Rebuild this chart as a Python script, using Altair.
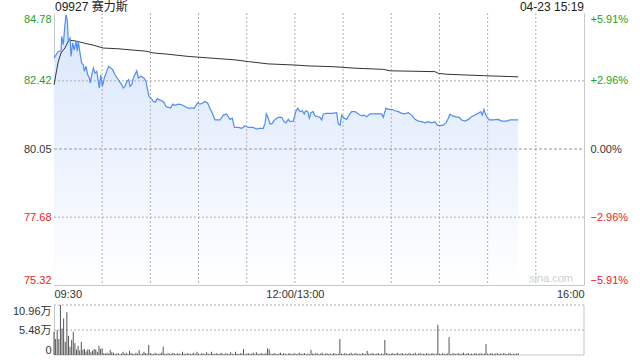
import altair as alt
import pandas as pd

header_left = ["09927 赛力斯"]
header_right = ["04-23 15:19"]
watermark = ["sina.com"]

prev_close = 80.05
price_ticks = [75.32, 77.68, 80.05, 82.42, 84.78]
pct_ticks = [-5.91, -2.96, 0.0, 2.96, 5.91]
vol_ticks = [0, 5.48, 10.96]
x_ticks = [0, 150, 330]
x_tick_labels = ["09:30", "12:00/13:00", "16:00"]
grid_minutes = [30, 60, 90, 120, 150, 180, 210, 240, 270, 300]
dotted_price_grid = [77.68, 82.42]
base_price_grid = [80.05]
vol_grid = [5.48, 10.96]

price_min = [
    0, 2.7, 4.4, 4.8, 5.8, 6.8, 7.5, 8.3, 8.9, 10.0,
    10.6, 11.6, 12.6, 13.7, 14.5, 15.1, 16.2, 17.2, 18.2, 18.9,
    19.9, 21.0, 22.0, 22.6, 23.5, 24.5, 25.5, 26.6, 27.6, 28.2,
    29.1, 30.1, 30.7, 31.3, 32.8, 34.1, 35.3, 36.5, 38.0, 40.0,
    42.1, 43.1, 44.2, 45.3, 46.5, 47.3, 48.4, 49.4, 50.4, 51.5,
    52.5, 54.0, 56.0, 57.3, 58.1, 59.1, 60.4, 61.8, 63.1, 64.3,
    65.6, 67.1, 68.5, 69.7, 71.2, 72.7, 73.9, 75.3, 77.4, 79.5,
    81.6, 83.6, 87.3, 89.5, 90.9, 92.3, 94.0, 95.7, 97.1, 98.6,
    100.2, 103.4, 105.4, 107.5, 108.5, 109.6, 111.0, 112.3, 114.7, 116.9,
    118.9, 121.0, 124.1, 126.2, 127.6, 130.3, 131.4, 132.2, 133.4, 134.5,
    135.9, 137.6, 139.6, 141.8, 143.2, 144.4, 145.9, 146.9, 149.0, 150.5,
    151.7, 153.2, 154.6, 155.8, 156.7, 158.0, 159.0, 160.0, 161.4, 162.5,
    164.2, 165.6, 166.7, 167.7, 169.8, 172.9, 176.0, 177.0, 178.1, 179.1,
    180.7, 182.2, 183.7, 185.3, 187.4, 189.5, 191.6, 193.0, 194.7, 196.7,
    199.9, 204.0, 205.0, 206.7, 208.1, 210.3, 212.3, 214.4, 216.5, 218.5,
    220.6, 222.7, 224.8, 226.8, 228.9, 231.0, 233.0, 235.2, 237.2, 238.6,
    240.3, 242.4, 244.1, 245.5, 246.5, 248.2, 250.3, 252.3, 253.8, 255.9,
    258.0, 260.0, 262.1, 264.2, 265.7, 266.7, 267.7, 268.8, 269.8, 271.0,
    273.5, 276.6, 278.7, 281.9, 283.9, 287.0, 289.0,
]
price_val = [
    83.21, 83.45, 83.45, 83.97, 83.68, 84.37, 84.72, 84.49, 83.80, 83.91,
    83.27, 83.74, 83.50, 83.80, 83.45, 83.80, 83.39, 83.04, 82.98, 82.75,
    82.93, 82.63, 82.52, 82.35, 82.63, 82.87, 82.69, 82.75, 82.40, 82.17,
    82.63, 82.23, 82.35, 82.52, 82.75, 82.93, 82.87, 82.81, 82.63, 82.46,
    82.29, 82.17, 82.23, 82.40, 82.46, 82.23, 82.29, 82.52, 82.63, 82.77,
    82.52, 82.58, 82.52, 82.40, 82.17, 81.88, 81.82, 81.71, 81.68, 81.80,
    81.76, 81.73, 81.67, 81.53, 81.50, 81.48, 81.61, 81.57, 81.61, 81.59,
    81.53, 81.47, 81.47, 81.66, 81.61, 81.64, 81.70, 81.64, 81.47, 81.29,
    81.06, 81.06, 81.23, 81.27, 81.17, 81.08, 81.12, 80.80, 80.80, 80.77,
    80.85, 80.80, 80.80, 80.74, 80.77, 80.77, 80.94, 81.27, 81.12, 80.92,
    80.94, 81.08, 81.15, 81.15, 81.00, 80.96, 81.08, 81.00, 81.02, 81.35,
    81.47, 81.35, 81.38, 81.27, 81.38, 81.35, 81.12, 81.31, 81.35, 81.20,
    81.17, 81.15, 81.06, 81.27, 81.29, 81.29, 81.31, 80.92, 80.88, 81.23,
    81.12, 81.08, 81.23, 81.35, 81.35, 81.27, 81.20, 81.23, 81.17, 81.27,
    81.27, 81.27, 81.15, 81.47, 81.43, 81.43, 81.38, 81.35, 81.29, 81.27,
    81.31, 81.23, 81.08, 81.02, 81.00, 80.96, 81.00, 80.96, 81.00, 80.88,
    80.86, 80.88, 80.96, 81.12, 81.26, 81.20, 81.17, 81.15, 81.06, 81.02,
    81.08, 81.17, 81.23, 81.29, 81.35, 81.23, 81.43, 81.23, 81.15, 81.06,
    81.06, 81.08, 81.02, 81.02, 81.06, 81.06, 81.06,
]

avg_min = [0, 1.7, 2.7, 4.4, 6.8, 8.9, 10.0, 14.1, 18.2, 24.5, 30.7, 39.0, 47.3,
           57.7, 61.8, 70.2, 83.6, 112.7, 121.0, 133.4, 150.0, 158.3, 175.0,
           187.4, 205.0, 209.2, 237.2, 239.3, 244.5, 267.3, 289.0]
avg_val = [82.28, 82.81, 83.10, 83.39, 83.56, 83.80, 83.83, 83.80, 83.74, 83.66,
           83.56, 83.54, 83.50, 83.45, 83.39, 83.35, 83.27, 83.15, 83.09, 83.01,
           82.97, 82.94, 82.91, 82.86, 82.82, 82.77, 82.74, 82.68, 82.65, 82.60,
           82.56]

# volume per minute, in 万 shares
vol_wan = [
    5.1, 3.5, 5.5, 3.5, 10.96, 5.8, 8.0, 2.9, 9.4, 4.2,
    1.8, 3.3, 5.1, 2.6, 1.2, 2.0, 1.0, 2.9, 1.2, 1.3,
    0.8, 1.2, 1.2, 0.6, 0.95, 1.3, 1.2, 0.7, 2.0, 1.3,
    1.5, 0.4, 0.3, 0.5, 0.3, 1.1, 0.6, 0.5, 0.2, 0.3,
    0.4, 0.2, 0.3, 0.7, 0.3, 0.5, 0.2, 0.9, 0.4, 0.3,
    0.2, 0.5, 0.3, 1.1, 0.2, 0.3, 0.7, 0.4, 0.3, 2.2,
    0.4, 0.3, 0.2, 0.5, 0.3, 0.2, 0.3, 0.5, 1.8, 0.3,
    0.2, 0.4, 0.3, 0.2, 0.5, 0.3, 0.2, 0.4, 0.3, 0.2,
    0.7, 0.3, 0.2, 0.4, 0.3, 0.2, 0.3, 0.5, 0.2, 0.7,
    0.3, 0.2, 0.4, 0.3, 0.2, 0.6, 0.3, 0.2, 0.7, 0.3,
    0.2, 0.4, 0.3, 0.2, 0.5, 0.3, 0.2, 0.4, 0.3, 0.2,
    0.6, 0.3, 0.2, 0.7, 0.3, 0.2, 0.4, 0.3, 1.3, 0.2,
    0.3, 0.4, 0.2, 0.3, 0.5, 0.2, 0.6, 0.3, 0.2, 0.4,
    0.3, 0.2, 0.4, 1.5, 1.2, 0.3, 0.2, 0.4, 0.3, 0.2,
    0.3, 0.5, 0.2, 0.4, 0.3, 0.2, 0.3, 0.4, 0.2, 0.3,
    0.4, 0.2, 0.3, 0.5, 0.2, 0.3, 0.4, 0.2, 0.3, 0.2,
    1.1, 0.3, 0.2, 0.4, 0.3, 0.2, 0.3, 0.5, 0.2, 0.3,
    0.4, 0.2, 0.3, 0.2, 0.4, 0.3, 0.2, 0.3, 3.5, 0.3,
    0.2, 0.4, 0.3, 0.2, 0.3, 0.5, 0.2, 0.3, 0.4, 0.2,
    0.3, 0.2, 0.4, 0.3, 0.2, 0.9, 0.3, 0.2, 0.4, 0.3,
    0.2, 0.3, 0.4, 0.2, 0.3, 0.2, 3.3, 0.4, 0.3, 0.2,
    0.3, 0.4, 0.2, 0.3, 0.5, 0.2, 0.3, 0.4, 0.2, 0.3,
    0.2, 0.4, 0.3, 0.2, 0.3, 0.5, 0.2, 0.3, 0.4, 0.2,
    0.3, 0.2, 0.4, 0.3, 0.2, 0.3, 0.4, 0.2, 0.3, 6.6,
    0.3, 0.2, 0.4, 0.3, 0.2, 0.3, 3.9, 0.2, 0.3, 0.4,
    0.2, 0.3, 0.4, 0.2, 0.3, 0.5, 0.2, 0.3, 0.4, 0.2,
    0.3, 0.2, 0.4, 0.3, 0.2, 0.3, 0.4, 0.2, 0.3, 2.4,
    0.3, 0.2, 0.4, 0.3, 0.2, 0.3, 0.4, 0.2, 0.3, 0.2,
    0.4, 0.3, 0.2, 0.3, 0.4, 0.2, 0.3, 0.2, 0.3, 0.4,
]

FONT = "Liberation Sans, Noto Sans CJK SC, sans-serif"
GREEN = "#1f9f1f"
RED = "#ee2222"
DARK = "#333333"
FRAME = "#c8c8c8"
BLUE = "#4f8ef2"
GRID = "#b0b0b0"

W, H = 530, 342
PRICE_H = 272
VOL_TOP, VOL_BOTTOM = 292, 342

df_price = pd.DataFrame({"minute": price_min, "price": price_val})
df_avg = pd.DataFrame({"minute": avg_min, "avg": avg_val})
df_vol = pd.DataFrame({"minute": list(range(len(vol_wan))), "vol": vol_wan})

xscale = alt.Scale(domain=[x_ticks[0], x_ticks[-1]], nice=False, zero=False)
price_scale = alt.Scale(domain=[price_ticks[0], price_ticks[-1]], range=[PRICE_H, 0], nice=False, zero=False)
pct_scale = alt.Scale(domain=[pct_ticks[0], pct_ticks[-1]], range=[PRICE_H, 0], nice=False, zero=False)
vol_scale = alt.Scale(domain=[0, vol_ticks[-1]], range=[VOL_BOTTOM, VOL_TOP], nice=False, zero=False)

label_expr = " : ".join(
    f"datum.value == {v} ? '{t}'" for v, t in zip(x_ticks[:-1], x_tick_labels[:-1])
) + f" : '{x_tick_labels[-1]}'"

xaxis = alt.Axis(values=x_ticks, labelExpr=label_expr, labelFlush=True, grid=False,
                 ticks=False, domainColor=FRAME, labelColor=DARK, labelFontSize=11,
                 labelFont=FONT, labelPadding=3, offset=-(H - PRICE_H), title=None)
x_enc = alt.X("minute:Q", scale=xscale, axis=xaxis)

price_color = {"condition": [{"test": f"datum.value > {prev_close + 0.005}", "value": GREEN},
                             {"test": f"datum.value < {prev_close - 0.005}", "value": RED}],
               "value": DARK}
pct_color = {"condition": [{"test": "datum.value > 0.001", "value": GREEN},
                           {"test": "datum.value < -0.001", "value": RED}],
             "value": DARK}

price_axis = alt.Axis(values=price_ticks, format=".2f", labelFlush=True, grid=False, ticks=False,
                      domainColor=FRAME, labelColor=price_color, labelPadding=3,
                      labelFontSize=11, labelFont=FONT, title=None, orient="left")
pct_axis = alt.Axis(values=pct_ticks, labelExpr="(datum.value > 0 ? '+' : '') + format(datum.value, '.2f') + '%'",
                    labelFlush=True, grid=False, ticks=False, domainColor=FRAME,
                    labelColor=pct_color, labelPadding=6, labelFontSize=11, labelFont=FONT,
                    title=None, orient="right")
vol_axis = alt.Axis(values=vol_ticks,
                    labelExpr="datum.value == 0 ? '0' : format(datum.value, '.2f') + '万'",
                    labelFlush=True, grid=False, ticks=False, domainColor=FRAME,
                    labelColor=DARK, labelPadding=3, labelFontSize=11, labelFont=FONT,
                    title=None, orient="left")

gradient = alt.Gradient(gradient="linear",
                        stops=[alt.GradientStop(color="#d8e5fb", offset=0),
                               alt.GradientStop(color="#ffffff", offset=1)],
                        x1=1, x2=1, y1=0, y2=1)

x_left = alt.XDatum(x_ticks[0], type="quantitative")
x_right = alt.datum(x_ticks[-1])


def hline(value, scale, color, dash):
    return alt.Chart(pd.DataFrame({"g": [value]})).mark_rule(
        color=color, strokeDash=dash, strokeWidth=1).encode(
        y=alt.Y("g:Q", scale=scale, axis=None), x=x_left, x2=x_right)


area = alt.Chart(df_price).mark_area(color=gradient, line=False).encode(
    x=x_enc,
    y=alt.Y("price:Q", scale=price_scale, axis=price_axis),
    y2=alt.datum(price_ticks[0]),
)

vgrid = alt.Chart(pd.DataFrame({"minute": grid_minutes})).mark_rule(
    color=GRID, strokeDash=[2, 2], strokeWidth=1).encode(
    x=x_enc,
    y=alt.YDatum(price_ticks[-1], scale=price_scale, axis=None),
    y2=alt.datum(price_ticks[0]),
)
hgrid_layers = [hline(v, price_scale, GRID, [2, 2]) for v in dotted_price_grid]
hbase_layers = [hline(v, price_scale, "#999999", [3, 2]) for v in base_price_grid]

line = alt.Chart(df_price).mark_line(color=BLUE, strokeWidth=1.2).encode(
    x=x_enc, y=alt.Y("price:Q", scale=price_scale, axis=None))
avg = alt.Chart(df_avg).mark_line(color="#333333", strokeWidth=1).encode(
    x=x_enc, y=alt.Y("avg:Q", scale=price_scale, axis=None))

pct = alt.Chart(df_price).transform_calculate(
    pct=f"(datum.price - {prev_close}) / {prev_close} * 100"
).mark_line(opacity=0).encode(
    x=x_enc, y=alt.Y("pct:Q", scale=pct_scale, axis=pct_axis))

vgrid_vol_layers = [hline(v, vol_scale, GRID, [2, 2]) for v in vol_grid]
vol_right = alt.Chart(pd.DataFrame({"minute": [x_ticks[-1]]})).mark_rule(
    color=FRAME, strokeWidth=1).encode(
    x=x_enc,
    y=alt.YDatum(0, scale=vol_scale, axis=None),
    y2=alt.datum(vol_ticks[-1]),
)
vol_bottom = hline(0, vol_scale, FRAME, [1, 0])
bars = alt.Chart(df_vol).mark_rule(color="#555555", strokeWidth=1).encode(
    x=x_enc,
    y=alt.Y("vol:Q", scale=vol_scale, axis=vol_axis),
    y2=alt.datum(0),
)

head_l = alt.Chart(pd.DataFrame({"t": header_left})).mark_text(
    align="left", baseline="alphabetic", font=FONT, fontSize=12, color="#222222").encode(
    text="t:N", x=alt.value(1), y=alt.value(-2))
head_r = alt.Chart(pd.DataFrame({"t": header_right})).mark_text(
    align="right", baseline="alphabetic", font=FONT, fontSize=12, color="#222222").encode(
    text="t:N", x=alt.value(W), y=alt.value(-2))
wm = alt.Chart(pd.DataFrame({"t": watermark})).mark_text(
    align="right", baseline="alphabetic", font=FONT, fontSize=11, color="#d0d0d0").encode(
    text="t:N", x=alt.value(W - 11), y=alt.value(PRICE_H - 3))

chart = alt.layer(
    area, vgrid, *hgrid_layers, *hbase_layers, avg, line, pct,
    *vgrid_vol_layers, vol_right, vol_bottom, bars,
    head_l, head_r, wm,
).resolve_scale(y="independent").resolve_axis(y="independent").properties(
    width=W, height=H,
    autosize=alt.AutoSizeParams(type="none"),
    padding={"left": 54, "top": 13, "right": 56, "bottom": 5},
    background="white",
).configure_view(strokeOpacity=0)

chart.save("out.html", embed_options={"renderer": "svg", "actions": False})
